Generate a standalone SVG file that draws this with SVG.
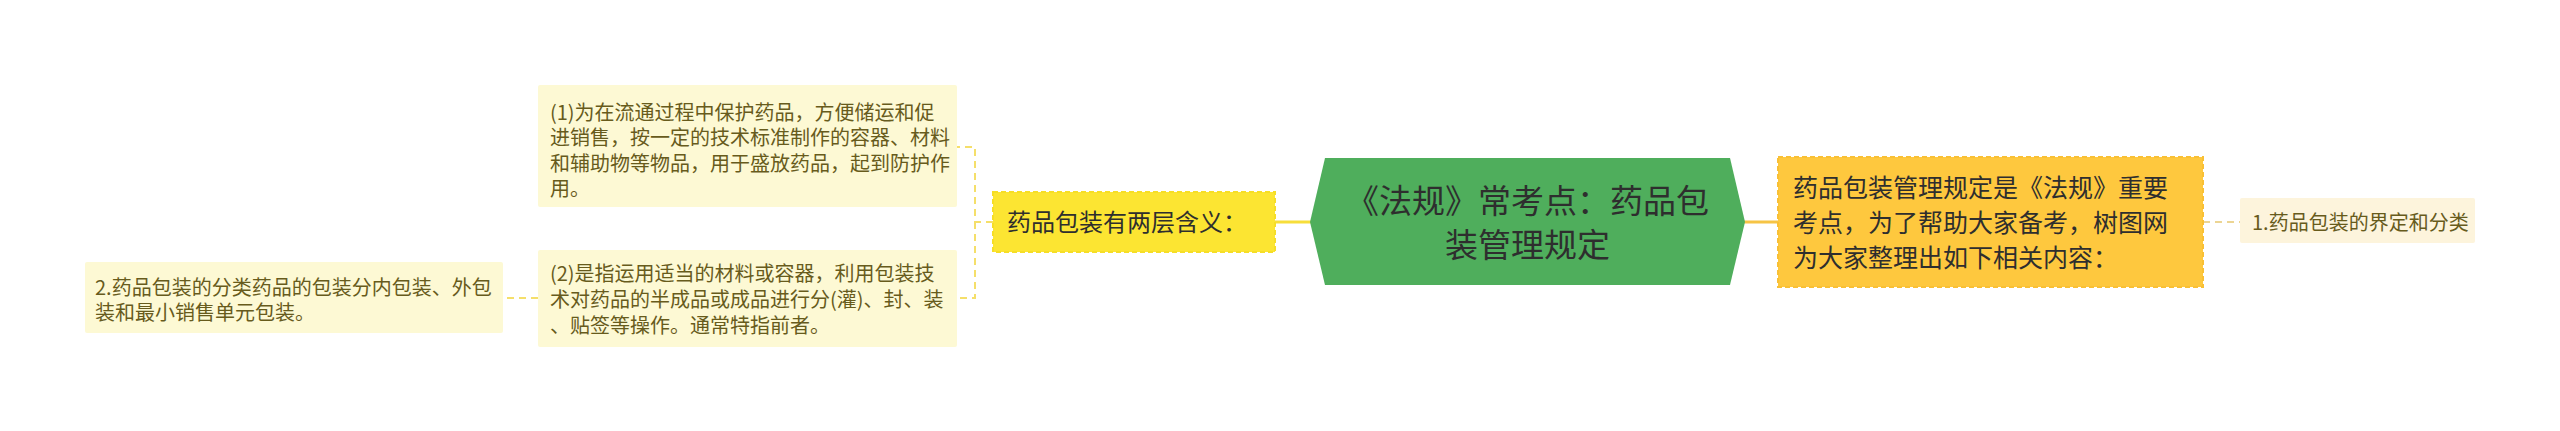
<svg xmlns="http://www.w3.org/2000/svg" width="2560" height="431" viewBox="0 0 2560 431">
<style>
text{font-family:"Noto Sans CJK SC","Noto Sans",sans-serif;}
.sm{font-size:20px;fill:#675b1c;}
.leaf{fill:#fdf9d4;}
.dash{fill:none;stroke:#f5df6a;stroke-width:2;stroke-dasharray:7 5;}
</style>
<rect width="2560" height="431" fill="#ffffff"/>
<g id="connectors">
<path class="dash" d="M993,222 H975 V147 H957"/>
<path class="dash" d="M975,222 V298 H957"/>
<path class="dash" d="M538,298 H503"/>
<path d="M1275,222 H1311" fill="none" stroke="#f7de3a" stroke-width="3"/>
<path d="M1744,222 H1778" fill="none" stroke="#f6c445" stroke-width="3"/>
<path d="M2203,222 H2240" fill="none" stroke="#ecd593" stroke-width="2" stroke-dasharray="7 5"/>
</g>
<g id="root">
<polygon points="1310,222 1325,158 1730,158 1745,222 1730,285 1325,285" fill="#4fae5c"/>
<text x="1527.5" y="212.5" text-anchor="middle" font-size="33" fill="#2e2e2e">《法规》常考点：药品包</text>
<text x="1527.5" y="256.5" text-anchor="middle" font-size="33" fill="#2e2e2e">装管理规定</text>
</g>
<g id="meaning">
<rect x="993" y="192" width="282" height="60" fill="#fce532" stroke="#f6de26" stroke-width="2" stroke-dasharray="5 3"/>
<text x="1007" y="231" font-size="24" fill="#2e2e2e">药品包装有两层含义：</text>
</g>
<g id="meaning1">
<rect class="leaf" x="538" y="85" width="419" height="122" rx="2"/>
<text class="sm" x="550" y="119.5">(1)为在流通过程中保护药品，方便储运和促</text>
<text class="sm" x="550" y="145">进销售，按一定的技术标准制作的容器、材料</text>
<text class="sm" x="550" y="170.5">和辅助物等物品，用于盛放药品，起到防护作</text>
<text class="sm" x="550" y="196">用。</text>
</g>
<g id="meaning2">
<rect class="leaf" x="538" y="250" width="419" height="97" rx="2"/>
<text class="sm" x="550" y="280.5">(2)是指运用适当的材料或容器，利用包装技</text>
<text class="sm" x="550" y="307">术对药品的半成品或成品进行分(灌)、封、装</text>
<text class="sm" x="550" y="333">、贴签等操作。通常特指前者。</text>
</g>
<g id="classify">
<rect class="leaf" x="85" y="262" width="418" height="71" rx="2"/>
<text class="sm" x="95" y="294.5">2.药品包装的分类药品的包装分内包装、外包</text>
<text class="sm" x="95" y="319.5">装和最小销售单元包装。</text>
</g>
<g id="intro">
<rect x="1778" y="157" width="425" height="130" fill="#fec83e" stroke="#f9c035" stroke-width="2" stroke-dasharray="5 3"/>
<text x="1793" y="196.5" font-size="25" fill="#2e2e2e">药品包装管理规定是《法规》重要</text>
<text x="1793" y="231.5" font-size="25" fill="#2e2e2e">考点，为了帮助大家备考，树图网</text>
<text x="1793" y="267" font-size="25" fill="#2e2e2e">为大家整理出如下相关内容：</text>
</g>
<g id="define">
<rect x="2240" y="198" width="235" height="45" fill="#fdf4dc" rx="2"/>
<text class="sm" x="2252" y="230" fill="#6e5a1a">1.药品包装的界定和分类</text>
</g>
</svg>
